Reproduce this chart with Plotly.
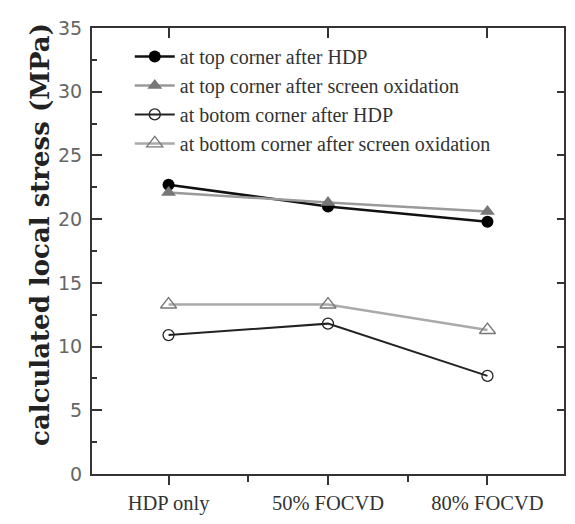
import plotly.graph_objects as go

categories = ["HDP only", "50% FOCVD", "80% FOCVD"]
xpos = [1, 2, 3]
top_hdp = [22.7, 21.0, 19.8]
top_ox = [22.1, 21.3, 20.6]
bot_hdp = [10.9, 11.8, 7.7]
bot_ox = [13.3, 13.3, 11.3]

fig = go.Figure()
fig.add_trace(go.Scatter(x=xpos, y=top_hdp, mode="lines+markers", name="at top corner after HDP",
                         line=dict(color="#111111", width=2.5),
                         marker=dict(symbol="circle", size=12, color="#000000")))
fig.add_trace(go.Scatter(x=xpos, y=top_ox, mode="lines+markers", name="at top corner after screen oxidation",
                         line=dict(color="#9a9a9a", width=2.5),
                         marker=dict(symbol="triangle-up", size=13, color="#777777")))
fig.add_trace(go.Scatter(x=xpos, y=bot_hdp, mode="lines+markers", name="at botom corner after HDP",
                         line=dict(color="#222222", width=2),
                         marker=dict(symbol="circle-open", size=11, color="#222222", line=dict(width=1.3))))
fig.add_trace(go.Scatter(x=xpos, y=bot_ox, mode="lines+markers", name="at bottom corner after screen oxidation",
                         line=dict(color="#aaaaaa", width=2.5),
                         marker=dict(symbol="triangle-up-open", size=14, color="#777777", line=dict(width=1.3))))
# invisible trace carrying the top and right axes (major ticks pointing inward)
fig.add_trace(go.Scatter(x=xpos, y=top_hdp, xaxis="x2", yaxis="y2", mode="markers",
                         marker=dict(opacity=0), showlegend=False, hoverinfo="skip"))

xrange = [0.52, 3.48]
yrange = [0, 35]
tc = "#333333"
fig.update_layout(
    width=575, height=524,
    margin=dict(l=92, r=9, t=28, b=44),
    paper_bgcolor="white", plot_bgcolor="rgba(0,0,0,0)",
    font=dict(family="Liberation Serif", color="#333333"),
    showlegend=True,
    legend=dict(x=0.08, y=0.98, xanchor="left", yanchor="top", bgcolor="rgba(0,0,0,0)",
                font=dict(family="Liberation Serif", size=20, color="#333333"),
                itemwidth=40, tracegroupgap=0),
    xaxis=dict(range=xrange, tickvals=xpos, ticktext=categories,
               ticks="outside", ticklen=9, tickwidth=2, tickcolor=tc,
               showline=True, linecolor=tc, linewidth=2, mirror=True,
               showgrid=False, zeroline=False,
               tickfont=dict(family="Liberation Serif", size=20.5, color="#333333"),
               minor=dict(tickvals=[1.5, 2.5], ticks="outside", ticklen=6, tickcolor=tc, tickwidth=2)),
    xaxis2=dict(overlaying="x", side="top", anchor="y2", range=xrange, tickvals=xpos,
                ticks="inside", ticklen=10, tickwidth=2, tickcolor=tc,
                showticklabels=False, showgrid=False, zeroline=False, showline=False),
    yaxis=dict(range=yrange, dtick=5, tick0=0,
               ticks="inside", ticklen=10, tickwidth=2, tickcolor=tc,
               showline=True, linecolor=tc, linewidth=2, mirror=True,
               showgrid=False, zeroline=False, ticklabelstandoff=4,
               tickfont=dict(family="DejaVu Sans", size=19, color="#666666"),
               minor=dict(dtick=2.5, tick0=0, ticks="inside", ticklen=5, tickcolor=tc, tickwidth=2),
               title=dict(text="&nbsp;&nbsp;&nbsp;&nbsp;<b>calculated local stress (MPa)</b>",
                          font=dict(family="DejaVu Serif", size=26, color="#222222"), standoff=1)),
    yaxis2=dict(overlaying="y", side="right", anchor="x2", range=yrange, dtick=5, tick0=0,
                ticks="inside", ticklen=7, tickwidth=2, tickcolor=tc,
                showticklabels=False, showgrid=False, zeroline=False, showline=False),
)

fig.write_html("out.html")
